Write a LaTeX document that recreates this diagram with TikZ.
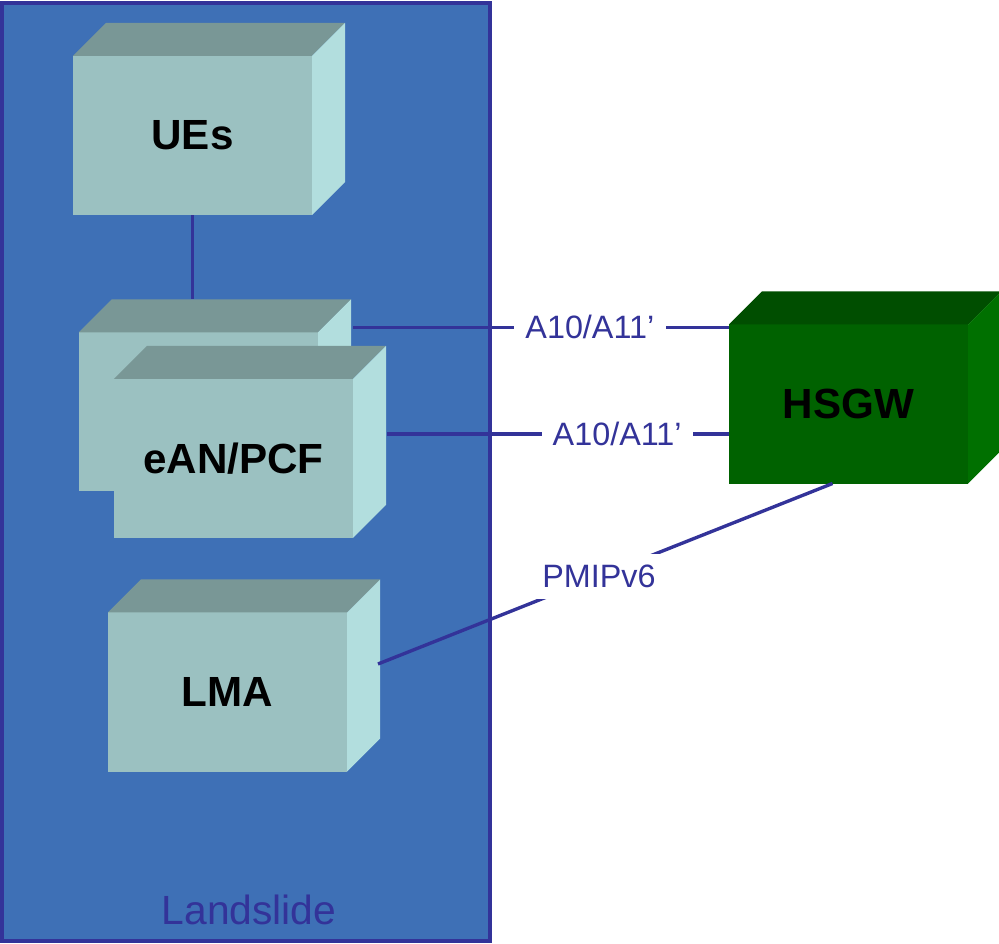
\documentclass[tikz,border=0pt]{standalone}
\usepackage{fontspec}
\setmainfont{Liberation Sans}
\usetikzlibrary{calc}
\definecolor{landblue}{RGB}{62,112,182}
\definecolor{linkblue}{RGB}{51,51,153}
\definecolor{facefront}{RGB}{155,193,193}
\definecolor{facetop}{RGB}{121,151,150}
\definecolor{faceside}{RGB}{178,222,222}
\definecolor{gwfront}{RGB}{0,98,0}
\definecolor{gwtop}{RGB}{0,78,0}
\definecolor{gwside}{RGB}{0,112,0}

% top and side faces of a box node
\newcommand{\boxfaces}[3]{%
  \fill[#2] (#1.north west) -- ++(33,33) -- ($(#1.north east)+(33,33)$) -- (#1.north east) -- cycle;
  \fill[#3] (#1.north east) -- ++(33,33) -- ($(#1.south east)+(33,33)$) -- (#1.south east) -- cycle;
}

\begin{document}
\begin{tikzpicture}[x=0.025cm, y=0.025cm,
  box/.style={fill=facefront, minimum width=5.975cm, minimum height=3.975cm, inner sep=0pt, outer sep=0pt, font=\fontsize{30}{35}\selectfont\bfseries},
  link/.style={draw=linkblue, line width=2.4pt},
  iflabel/.style={fill=white, text=linkblue, inner sep=0.28cm, font=\fontsize{23}{27}\selectfont}]
  \useasboundingbox (0,0) rectangle (999,944);

  % Landslide frame
  \node (landslide) [draw=linkblue, line width=2.4pt, fill=landblue, minimum width=12.2cm, minimum height=23.45cm, inner sep=0pt] at (246,472) {};
  \node (landslidelabel) [anchor=base, text=linkblue, font=\fontsize{29}{34}\selectfont] at ($(landslide.south)+(3,18)$) {Landslide};

  % Boxes
  \node (ues) [box] at (192.5,808.5) {UEs};
  \boxfaces{ues}{facetop}{faceside}
  \node (eanback) [box] at (198.5,532.2) {};
  \boxfaces{eanback}{facetop}{faceside}
  \node (ean) [box] at (233.5,485.6) {eAN/PCF};
  \boxfaces{ean}{facetop}{faceside}
  \node (lma) [box] at (227.5,252) {LMA};
  \boxfaces{lma}{facetop}{faceside}
  \node (hsgw) [box, fill=gwfront] at (848.5,540) {HSGW};
  \boxfaces{hsgw}{gwtop}{gwside}

  % Links
  \coordinate (eanbacktop) at ($(eanback.north)+(0,33)$);
  \draw[link] (ues.south) -- (ues.south |- eanbacktop);

  \coordinate (upperstart) at ($(eanback.north east)+(35,5)$);
  \draw[link] (upperstart) -- node[iflabel, pos=0.63] (upperlabel) {A10/A11’} (upperstart -| hsgw.west);

  \coordinate (lowerstart) at ($(ean.east)+(34,24.5)$);
  \draw[link] (lowerstart) -- node[iflabel, pos=0.673] (lowerlabel) {A10/A11’} (lowerstart -| hsgw.west);

  \coordinate (pmipstart) at ($(lma.east)+(31,28)$);
  \coordinate (pmipend) at ($(hsgw.south)+(-16,0)$);
  \draw[link] (pmipstart) -- node[iflabel, pos=0.486] (pmiplabel) {PMIPv6} (pmipend);

\end{tikzpicture}
\end{document}
